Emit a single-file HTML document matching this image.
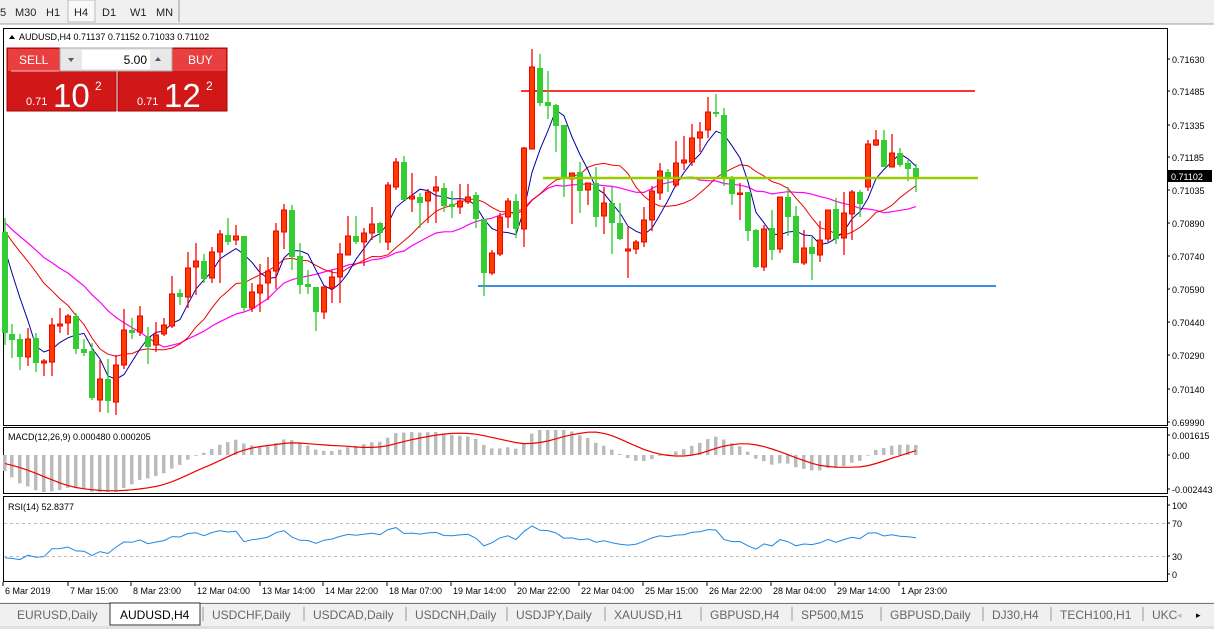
<!DOCTYPE html>
<html><head><meta charset="utf-8">
<style>
body{margin:0;width:1214px;height:629px;overflow:hidden;background:#fff;font-family:"Liberation Sans",sans-serif;}
svg{position:absolute;left:0;top:0}
</style></head><body>
<svg id="s" width="1214" height="629" xmlns="http://www.w3.org/2000/svg" font-family="Liberation Sans, sans-serif"></svg>
<script>
const D=[
[5,'g',232,333,218,345],[12,'g',334,340,324,358],[20,'g',339,357,334,370],[28,'r',339,357,328,366],[36,'g',338,363,333,372],[44,'r',361,363,359,376],[52,'r',325,362,318,376],[60,'r',324,326,308,333],[68,'r',316,323,314,335],[76,'g',316,349,313,354],[84,'g',349,353,339,356],[92,'g',351,398,343,400],[100,'r',379,400,360,412],[108,'g',379,401,359,413],[116,'r',365,402,355,415],[124,'r',330,365,309,369],[132,'g',330,333,318,339],[140,'r',316,332,306,336],[148,'g',337,347,327,364],[156,'r',335,345,322,352],[164,'r',325,334,318,336],[172,'r',294,326,276,328],[180,'g',293,297,289,305],[188,'r',268,297,252,308],[196,'r',261,267,243,295],[204,'g',261,279,254,283],[212,'r',252,278,247,283],[220,'r',234,252,230,283],[228,'g',235,242,218,245],[236,'r',236,240,225,245],[244,'g',236,308,236,311],
[252,'r',292,308,283,312],[260,'r',285,293,264,312],[268,'r',271,283,257,300],[276,'r',231,271,223,289],[284,'r',210,232,204,249],[292,'g',210,257,205,270],[300,'g',256,285,243,294],[308,'g',284,287,270,294],[316,'g',287,312,287,331],[324,'r',287,312,287,319],[332,'r',277,288,270,303],[340,'r',254,277,243,303],[348,'r',236,255,216,255],[356,'g',236,242,216,244],[364,'r',233,242,228,266],[372,'r',224,233,207,240],[380,'g',223,233,222,243],[388,'r',185,242,182,250],[396,'r',162,187,158,190],[404,'g',162,200,156,200],[412,'r',196,199,173,212],[420,'g',197,203,193,228],[428,'r',192,201,189,223],[436,'r',187,191,176,223],[444,'g',188,206,183,212],[452,'g',204,207,191,218],[460,'r',201,207,184,214],[468,'r',197,202,184,204],[476,'g',195,219,192,228],[484,'g',219,273,219,296],
[492,'r',253,273,250,275],[500,'r',217,254,213,256],[508,'r',201,217,198,228],[516,'g',201,229,194,238],[524,'r',148,229,147,247],[532,'r',67,149,49,149],[540,'g',68,103,54,106],[548,'g',102,106,71,119],[556,'g',105,126,104,152],[564,'g',125,177,125,197],[572,'r',173,179,173,224],[580,'g',172,191,162,213],[588,'r',183,190,183,205],[596,'g',183,217,167,227],[604,'r',203,216,187,234],[612,'g',203,223,187,254],[620,'g',223,239,203,240],[628,'r',249,251,227,278],[636,'r',242,249,240,254],[644,'r',220,242,207,247],[652,'r',191,220,186,231],[660,'r',171,193,163,200],[668,'g',172,178,169,192],[676,'r',163,185,141,187],
[684,'r',160,163,136,170],[692,'r',138,162,124,166],[700,'r',132,138,122,152],[708,'r',112,130,97,138],[716,'g',112,114,94,117],[724,'g',115,177,108,186],[732,'g',177,194,176,205],[740,'r',193,194,183,220],[748,'g',192,231,192,241],[756,'g',230,267,229,268],[764,'r',229,267,225,271],[772,'g',228,250,210,260],[780,'r',197,249,197,253],[788,'g',197,217,187,236],[796,'g',216,263,206,263],[804,'r',248,263,230,265],[812,'g',247,254,237,280],[820,'r',240,255,221,262],[828,'r',210,239,210,242],[836,'g',209,239,198,244],[844,'r',213,238,192,255],[852,'r',192,214,190,240],[860,'g',192,204,190,217],[868,'r',144,187,140,191],[876,'r',140,145,130,146],[884,'g',140,167,130,167],[892,'r',153,167,134,167],[900,'g',153,165,148,167],[908,'g',163,169,160,181],[916,'g',168,177,164,192]];
let o='';
const R=(x,y,w,h,f,s,sw)=>`<rect x="${x}" y="${y}" width="${w}" height="${h}" fill="${f}"${s?` stroke="${s}" stroke-width="${sw||1}"`:''}/>`;
const T=(x,y,t,sz,fill,anc)=>`<text x="${x}" y="${y}" font-size="${sz||10}" fill="${fill||'#000'}"${anc?` text-anchor="${anc}"`:''}>${t}</text>`;
o+=R(0,0,1214,24,'#f0f0f0');
o+=R(68,0,27,22,'#f8f8f8','#bbb');
o+=`<line x1="179" y1="0" x2="179" y2="22" stroke="#999"/>`;
[['5',0],['M30',15],['H1',46],['H4',74],['D1',102],['W1',130],['MN',156]].forEach(a=>o+=T(a[1],16,a[0],11,'#222'));
o+=`<line x1="0" y1="24" x2="1214" y2="24" stroke="#a0a0a0"/>`;
o+=R(0,25,1214,578,'#fff');
o+=R(3.5,28.5,1164,397,'none','#000');
o+=R(3.5,427.5,1164,66,'none','#000');
o+=R(3.5,496.5,1164,85,'none','#000');
o+=`<line x1="521" y1="91" x2="975" y2="91" stroke="#f33" stroke-width="2"/>`;
o+=`<line x1="478" y1="286" x2="996" y2="286" stroke="#3a8fe0" stroke-width="2"/>`;
const cl=D.map(d=>d[1]=='r'?d[2]:d[3]);
const hist=[];for(let i=0;i<30;i++)hist.push(190+i*1.4+(i%2?5:-5));
const all=hist.concat(cl);
function sma(n){const r=[];for(let i=30;i<all.length;i++){let s=0;for(let k=0;k<n;k++)s+=all[i-k];r.push(s/n);}return r;}
function pl(arr,c,w){return `<polyline fill="none" stroke="${c}" stroke-width="${w||1}" points="${arr.map((v,i)=>D[i][0]+','+v.toFixed(1)).join(' ')}"/>`;}
o+=pl(sma(21),'#f0f',1.2);o+=pl(sma(13),'#e00',1);o+=pl(sma(5),'#00a',1);
D.forEach(d=>{const[x,c,t,b,h,l]=d;const col=c=='r'?'#f00':'#2c2';
o+=`<line x1="${x}" y1="${h}" x2="${x}" y2="${l}" stroke="${col}" stroke-width="1.3"/>`;
if(c=='r')o+=R(x-2.5,t,5,Math.max(b-t,1.5),'#ff3c00','#e00',1);else o+=R(x-3,t,6,Math.max(b-t,2),'#3c3');});
o+=`<line x1="543" y1="178" x2="978" y2="178" stroke="#9c0" stroke-width="2.5"/>`;
[[59,'0.71630'],[91,'0.71485'],[125,'0.71335'],[157,'0.71185'],[190,'0.71035'],[223,'0.70890'],[256,'0.70740'],[289,'0.70590'],[322,'0.70440'],[355,'0.70290'],[389,'0.70140'],[422,'0.69990']].forEach(a=>{o+=`<line x1="1167" y1="${a[0]}" x2="1170" y2="${a[0]}" stroke="#000"/>`;o+=T(1172,a[0]+4,a[1],9);});
o+=R(1168,170,44,12,'#000');o+=T(1171,180,'0.71102',9,'#fff');
const price=all.map(v=>-v);
function ema(a,n){const k=2/(n+1);const r=[a[0]];for(let i=1;i<a.length;i++)r.push(a[i]*k+r[i-1]*(1-k));return r;}
const e12=ema(price,12),e26=ema(price,26);const m=e12.map((v,i)=>v-e26[i]);
const sig=[];for(let i=0;i<m.length;i++){let s=0,n=0;for(let k=0;k<9&&i-k>=0;k++){s+=m[i-k];n++;}sig.push(s/n);}
const sc=0.95;
const cy=v=>Math.max(430,Math.min(492,455-v*sc));
D.forEach((d,i)=>{const y=cy(m[i+30]);o+=R(d[0]-2,Math.min(455,y),3.5,Math.max(Math.abs(455-y),0.8),'#bbb');});
o+=`<polyline fill="none" stroke="#e00" stroke-width="1.2" points="${D.map((d,i)=>d[0]+','+cy(sig[i+30]).toFixed(1)).join(' ')}"/>`;
o+=T(8,440,'MACD(12,26,9) 0.000480 0.000205',9);
[[435,'0.001615'],[455,'0.00'],[489,'-0.002443']].forEach(a=>{o+=`<line x1="1167" y1="${a[0]}" x2="1170" y2="${a[0]}" stroke="#000"/>`;o+=T(1172,a[0]+4,a[1],9);});
let g=0,ls=0;const rsi=[];const ch=[];for(let i=1;i<price.length;i++)ch.push(price[i]-price[i-1]);
for(let i=0;i<ch.length;i++){const up=Math.max(ch[i],0),dn=Math.max(-ch[i],0);if(i<14){g+=up/14;ls+=dn/14;}else{g=(g*13+up)/14;ls=(ls*13+dn)/14;}rsi.push(ls==0?100:100-100/(1+g/ls));}
o+=`<line x1="4" y1="523.5" x2="1167" y2="523.5" stroke="#bbb" stroke-dasharray="3,3"/>`;
o+=`<line x1="4" y1="556.5" x2="1167" y2="556.5" stroke="#bbb" stroke-dasharray="3,3"/>`;
o+=`<polyline fill="none" stroke="#1e88e5" stroke-width="1" points="${D.map((d,i)=>d[0]+','+(574-rsi[i+29]*0.69).toFixed(1)).join(' ')}"/>`;
o+=T(8,510,'RSI(14) 52.8377',9);
[[505,'100'],[523,'70'],[556,'30'],[574,'0']].forEach(a=>{o+=`<line x1="1167" y1="${a[0]}" x2="1170" y2="${a[0]}" stroke="#000"/>`;o+=T(1172,a[0]+4,a[1],9);});
[[3,'6 Mar 2019'],[68,'7 Mar 15:00'],[131,'8 Mar 23:00'],[195,'12 Mar 04:00'],[260,'13 Mar 14:00'],[323,'14 Mar 22:00'],[387,'18 Mar 07:00'],[451,'19 Mar 14:00'],[515,'20 Mar 22:00'],[579,'22 Mar 04:00'],[643,'25 Mar 15:00'],[707,'26 Mar 22:00'],[771,'28 Mar 04:00'],[835,'29 Mar 14:00'],[899,'1 Apr 23:00']].forEach(a=>{o+=`<line x1="${a[0]}" y1="582" x2="${a[0]}" y2="586" stroke="#000"/>`;o+=T(a[0]+2,594,a[1],9);});
o+=R(0,602,1214,27,'#f0f0f0');o+=`<line x1="0" y1="603.5" x2="1214" y2="603.5" stroke="#777"/>`;
o+=R(110,603,90,22,'#fff','#333');
const tabs=[[17,'EURUSD,Daily'],[120,'AUDUSD,H4'],[212,'USDCHF,Daily'],[313,'USDCAD,Daily'],[415,'USDCNH,Daily'],[516,'USDJPY,Daily'],[614,'XAUUSD,H1'],[710,'GBPUSD,H4'],[801,'SP500,M15'],[890,'GBPUSD,Daily'],[992,'DJ30,H4'],[1060,'TECH100,H1'],[1152,'UKC']];
tabs.forEach((a,i)=>{o+=T(a[0],619,a[1],12,i==1?'#000':'#666');if(i>1)o+=`<line x1="${a[0]-9}" y1="607" x2="${a[0]-9}" y2="621" stroke="#999"/>`;});
o+=T(1177,618,'◂',9,'#bbb');o+=T(1196,618,'▸',9,'#000');
o+=R(0,626,1214,3,'#e0e0e0');
o+=`<polygon points="9,39 15,39 12,35" fill="#000"/>`;
o+=T(19,40,'AUDUSD,H4  0.71137 0.71152 0.71033 0.71102',9);
function btn(x,lbl,big){o+=R(x,48,109,63,'#d01818','#a00');o+=R(x+1,49,107,22,'#e84040');o+=`<line x1="${x+4}" y1="71" x2="${x+52}" y2="71" stroke="#fbb"/>`;
o+=T(x+(lbl=='SELL'?12:70),64,lbl,12,'#fff');o+=T(x+19,105,'0.71',11,'#fff');o+=`<text x="${x+46}" y="107" font-size="33" fill="#fff">${big}</text>`;o+=T(x+88,90,'2',12,'#fff');}
btn(7,'SELL','10');btn(118,'BUY','12');
o+=R(60,48,112,23,'#e8e8e8','#aaa');o+=R(82,50,68,19,'#fff');o+=T(147,64,'5.00',12,'#000','end');
o+=`<polygon points="68,58 74,58 71,62" fill="#557"/><polygon points="155,61 161,61 158,57" fill="#557"/>`;
document.getElementById('s').innerHTML=o;
</script>
</body></html>
